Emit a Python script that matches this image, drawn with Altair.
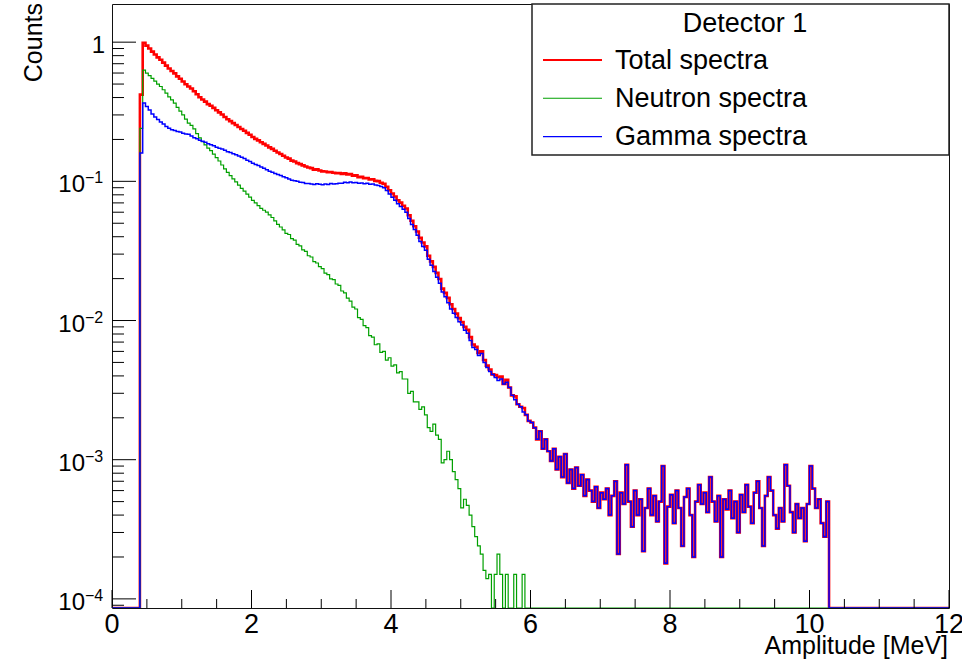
import altair as alt
import pandas as pd

# ---------------- data ----------------
BIN_WIDTH = 0.04          # MeV per bin
N_BINS = 300              # 0 .. 12 MeV
FIRST_BIN = 10            # first non-empty bin starts at 0.40 MeV

neutron = [
    0.24, 0.63, 0.60, 0.575, 0.55, 0.525, 0.50, 0.48, 0.455, 0.43,
    0.405, 0.385, 0.365, 0.34, 0.32, 0.30, 0.28, 0.262, 0.252, 0.238,
    0.22, 0.205, 0.193, 0.183, 0.173, 0.166, 0.157, 0.148, 0.140, 0.131,
    0.123, 0.116, 0.110, 0.104, 0.099, 0.094, 0.089, 0.085, 0.081, 0.077,
    0.073, 0.070, 0.067, 0.064, 0.062, 0.060, 0.0575, 0.055, 0.052, 0.049,
    0.047, 0.0448, 0.0423, 0.0415, 0.0388, 0.0378, 0.0352, 0.0344, 0.0322, 0.0314,
    0.0292, 0.0286, 0.0265, 0.0259, 0.0244, 0.0236, 0.0219, 0.0214, 0.0199, 0.0197,
    0.0183, 0.0179, 0.0163, 0.0158, 0.0145, 0.0138, 0.0125, 0.0121, 0.0105, 0.0102,
    0.0092, 0.0089, 0.0078, 0.0076, 0.0067, 0.0068, 0.0059, 0.0060, 0.0052, 0.0054,
    0.0047, 0.0048, 0.0042, 0.0043, 0.0038, 0.0038, 0.0030, 0.0031, 0.0026, 0.0026,
    0.0023, 0.0024, 0.0021, 0.0017, 0.0016, 0.0018, 0.0015, 0.0014, 0.00095, 0.0010,
    0.00115, 0.0010, 0.00082, 0.00072, 0.00062, 0.00045, 0.00052, 0.00047, 0.00040, 0.00033,
    0.00028, 0.00024, 0.00021, 0.00016, 0.00014, 0.00015, 0, 0.00015, 0.00021, 0.00015,
    0, 0.00015, 0, 0, 0.00015, 0, 0, 0.00015, 0,
]

gamma = [
    0.16, 0.365, 0.345, 0.325, 0.305, 0.29, 0.278, 0.267, 0.258, 0.248,
    0.241, 0.235, 0.232, 0.228, 0.226, 0.222, 0.219, 0.218, 0.212, 0.206,
    0.202, 0.197, 0.194, 0.191, 0.186, 0.183, 0.180, 0.176, 0.173, 0.171,
    0.167, 0.163, 0.161, 0.158, 0.155, 0.152, 0.149, 0.146, 0.142, 0.139,
    0.135, 0.132, 0.130, 0.127, 0.124, 0.121, 0.118, 0.116, 0.114, 0.112,
    0.110, 0.108, 0.106, 0.104, 0.102, 0.101, 0.100, 0.0985, 0.098, 0.0965,
    0.0965, 0.0958, 0.0948, 0.0962, 0.0952, 0.0944, 0.0958, 0.0951, 0.0966, 0.0955,
    0.0962, 0.0970, 0.0968, 0.0985, 0.0978, 0.0990, 0.0975, 0.0982, 0.0968, 0.0974,
    0.0962, 0.0967, 0.0952, 0.0958, 0.0941, 0.0935, 0.0918, 0.090, 0.086, 0.081,
    0.077, 0.073, 0.069, 0.066, 0.063, 0.060, 0.054, 0.049, 0.045, 0.041,
    0.037, 0.034, 0.032, 0.0275, 0.025, 0.0225, 0.0205, 0.0185, 0.0160, 0.0148,
    0.0134, 0.0121, 0.0113, 0.0105, 0.0098, 0.0093, 0.0085, 0.0081, 0.0072, 0.0064,
    0.0062, 0.0056, 0.0058, 0.0050, 0.0046, 0.0043, 0.0041, 0.0039, 0.0037, 0.0038,
    0.0035, 0.0036, 0.0033, 0.0029, 0.0027, 0.0025, 0.0024, 0.0022, 0.0021, 0.0019,
    0.00185, 0.0017, 0.0014, 0.0016, 0.0012, 0.0014, 0.00115, 0.00098, 0.0012, 0.00085,
    0.00105, 0.00075, 0.0011, 0.00068, 0.00085, 0.00062, 0.00088, 0.00065, 0.00078, 0.00055,
    0.00072, 0.00060, 0.00050, 0.00064, 0.00045, 0.00058, 0.00052, 0.00062, 0.00040, 0.00055,
    0.00070, 0.00021, 0.00058, 0.00048, 0.00092, 0.00050, 0.00033, 0.00060, 0.00040, 0.00052,
    0.00022, 0.00045, 0.00062, 0.00040, 0.00055, 0.00036, 0.00050, 0.00090, 0.00018, 0.00046,
    0.00056, 0.00035, 0.00060, 0.00045, 0.00024, 0.00054, 0.00062, 0.00040, 0.00020, 0.00050,
    0.00066, 0.00048, 0.00058, 0.00042, 0.00075, 0.00050, 0.00036, 0.00055, 0.00020, 0.00052,
    0.00044, 0.00060, 0.00038, 0.00050, 0.00030, 0.00056, 0.00042, 0.00066, 0.00046, 0.00035,
    0.00058, 0.00070, 0.00045, 0.00024, 0.00055, 0.00075, 0.00060, 0.00040, 0.00032, 0.00045,
    0.00036, 0.00092, 0.00065, 0.00042, 0.00030, 0.00048, 0.00038, 0.00045, 0.00026, 0.00048,
    0.00090, 0.00062, 0.00045, 0.00052, 0.00035, 0.00028, 0.00050,
]

total = [
    0.42, 0.99, 0.945, 0.90, 0.855, 0.815, 0.778, 0.747, 0.713, 0.678,
    0.646, 0.62, 0.597, 0.568, 0.546, 0.522, 0.499, 0.48, 0.464, 0.444,
    0.422, 0.402, 0.387, 0.374, 0.359, 0.349, 0.337, 0.324, 0.313, 0.302,
    0.29, 0.279, 0.271, 0.262, 0.254, 0.246, 0.238, 0.231, 0.223, 0.216,
    0.208, 0.202, 0.197, 0.191, 0.186, 0.181, 0.1755, 0.171, 0.166, 0.161,
    0.157, 0.1528, 0.1483, 0.1455, 0.1408, 0.1388, 0.1352, 0.1329, 0.1302, 0.1279,
    0.1257, 0.1244, 0.1213, 0.1221, 0.1196, 0.1180, 0.1177, 0.1165, 0.1165, 0.1152,
    0.1145, 0.1149, 0.1131, 0.1143, 0.1123, 0.1128, 0.1100, 0.1103, 0.1073, 0.1076,
    0.1054, 0.1056, 0.1030, 0.1034, 0.1008, 0.1003, 0.0977, 0.0960, 0.0912, 0.0864,
    0.0817, 0.0778, 0.0732, 0.0703, 0.0668, 0.0638, 0.0570, 0.0521, 0.0476, 0.0436,
    0.0393, 0.0364, 0.0341, 0.0292, 0.0266, 0.0243, 0.022, 0.0199, 0.01695, 0.0158,
    0.01455, 0.0131, 0.0121, 0.0112, 0.0104, 0.00975, 0.0090, 0.00857, 0.0076, 0.00673,
    0.00648, 0.00584, 0.0060, 0.0052, 0.00474, 0.00445, 0.0041, 0.00405, 0.00391, 0.00395,
    0.0035, 0.00375, 0.0033, 0.0029, 0.00285, 0.0025, 0.0024, 0.00235, 0.0021, 0.0019,
    0.00185, 0.0017, 0.0014, 0.0016, 0.0012, 0.0014, 0.00115, 0.00098, 0.0012, 0.00085,
    0.00105, 0.00075, 0.0011, 0.00068, 0.00085, 0.00062, 0.00088, 0.00065, 0.00078, 0.00055,
    0.00072, 0.00060, 0.00050, 0.00064, 0.00045, 0.00058, 0.00052, 0.00062, 0.00040, 0.00055,
    0.00070, 0.00021, 0.00058, 0.00048, 0.00092, 0.00050, 0.00033, 0.00060, 0.00040, 0.00052,
    0.00022, 0.00045, 0.00062, 0.00040, 0.00055, 0.00036, 0.00050, 0.00090, 0.00018, 0.00046,
    0.00056, 0.00035, 0.00060, 0.00045, 0.00024, 0.00054, 0.00062, 0.00040, 0.00020, 0.00050,
    0.00066, 0.00048, 0.00058, 0.00042, 0.00075, 0.00050, 0.00036, 0.00055, 0.00020, 0.00052,
    0.00044, 0.00060, 0.00038, 0.00050, 0.00030, 0.00056, 0.00042, 0.00066, 0.00046, 0.00035,
    0.00058, 0.00070, 0.00045, 0.00024, 0.00055, 0.00075, 0.00060, 0.00040, 0.00032, 0.00045,
    0.00036, 0.00092, 0.00065, 0.00042, 0.00030, 0.00048, 0.00038, 0.00045, 0.00026, 0.00048,
    0.00090, 0.00062, 0.00045, 0.00052, 0.00035, 0.00028, 0.00050,
]

series_names = ["Total spectra", "Neutron spectra", "Gamma spectra"]
series_colors = ["#ff0000", "#00a000", "#0000ff"]
x_tick_values = [0, 2, 4, 6, 8, 10, 12]
x_tick_labels = ["0", "2", "4", "6", "8", "10", "12"]
y_decades = [1e-4, 1e-3, 1e-2, 1e-1, 1.0]
y_exponents = ["\u22124", "\u22123", "\u22122", "\u22121"]
legend_title = "Detector 1"

X_MIN, X_MAX = 0.0, 12.0
Y_MIN, Y_MAX = 8.6e-5, 1.88

# ---------------- build tables ----------------
def full_hist(vals):
    out = [0.0] * N_BINS
    for k, v in enumerate(vals):
        out[FIRST_BIN + k] = v
    return out

rows = []
for name, vals in zip(series_names, [total, neutron, gamma]):
    h = full_hist(vals)
    for i in range(N_BINS):
        v = h[i] if h[i] > 0 else Y_MIN   # empty bins drawn on the frame bottom
        rows.append({"E": round(i * BIN_WIDTH, 4), "v": v, "s": name})
    rows.append({"E": X_MAX, "v": h[-1] if h[-1] > 0 else Y_MIN, "s": name})
hist = pd.DataFrame(rows)

xs = alt.Scale(domain=[X_MIN, X_MAX], nice=False, zero=False)
ys = alt.Scale(type="log", domain=[Y_MIN, Y_MAX], nice=False)

W, H = 837, 604
FONT = "Liberation Sans"

widths = {"Total spectra": 2.6, "Neutron spectra": 1.2, "Gamma spectra": 1.5}
layers = []
for name, col in zip(series_names, series_colors):
    layers.append(
        alt.Chart(hist[hist.s == name])
        .mark_line(interpolate="step-after", color=col, strokeWidth=widths[name], clip=True)
        .encode(x=alt.X("E:Q", scale=xs, axis=None), y=alt.Y("v:Q", scale=ys, axis=None))
    )

# ticks (inside the frame, ROOT style)
x_major = pd.DataFrame({"t": x_tick_values})
x_minor = pd.DataFrame({"t": [x / 2 for x in range(25) if x % 4 != 0]})
y_major = pd.DataFrame({"t": y_decades})
y_minor_vals = [m * d for d in [1e-5, 1e-4, 1e-3, 1e-2, 1e-1] for m in range(2, 10)]
y_minor = pd.DataFrame({"t": [v for v in y_minor_vals if Y_MIN <= v <= Y_MAX]})

def xtick(df, length):
    return alt.Chart(df).mark_rule(color="#000", strokeWidth=1).encode(
        x=alt.X("t:Q", scale=xs, axis=None), y=alt.value(H), y2=alt.value(H - length))

def ytick(df, length):
    return alt.Chart(df).mark_rule(color="#000", strokeWidth=1).encode(
        y=alt.Y("t:Q", scale=ys, axis=None), x=alt.value(0), x2=alt.value(length))

layers += [xtick(x_major, 18), xtick(x_minor, 9), ytick(y_major, 24), ytick(y_minor, 12)]

# x tick labels
xl = pd.DataFrame({"t": x_tick_values, "lab": x_tick_labels})
layers.append(
    alt.Chart(xl).mark_text(font=FONT, fontSize=27, align="center", baseline="alphabetic", color="#000")
    .encode(x=alt.X("t:Q", scale=xs, axis=None), y=alt.value(H + 25), text="lab:N"))

# y tick labels: "10" with superscript exponent, and "1"
yl = pd.DataFrame({"t": y_decades[:-1], "base": ["10"] * 4, "exp": y_exponents})
layers.append(
    alt.Chart(yl).mark_text(font=FONT, fontSize=24, align="right", baseline="alphabetic", dy=11, color="#000")
    .encode(y=alt.Y("t:Q", scale=ys, axis=None), x=alt.value(-27), text="base:N"))
layers.append(
    alt.Chart(yl).mark_text(font=FONT, fontSize=16, align="left", baseline="alphabetic", dy=2, color="#000")
    .encode(y=alt.Y("t:Q", scale=ys, axis=None), x=alt.value(-27), text="exp:N"))
one = pd.DataFrame({"t": [1.0], "lab": ["1"]})
layers.append(
    alt.Chart(one).mark_text(font=FONT, fontSize=24, align="right", baseline="alphabetic", dy=11, color="#000")
    .encode(y=alt.Y("t:Q", scale=ys, axis=None), x=alt.value(-7), text="lab:N"))

# axis titles
layers.append(
    alt.Chart(one).mark_text(font=FONT, fontSize=25, angle=270, align="right", baseline="alphabetic",
                             color="#000", text="Counts")
    .encode(x=alt.value(-70), y=alt.value(-1)))
layers.append(
    alt.Chart(one).mark_text(font=FONT, fontSize=25, align="right", baseline="alphabetic",
                             color="#000", text="Amplitude [MeV]")
    .encode(x=alt.value(W - 1), y=alt.value(H + 46)))

# legend box
layers.append(
    alt.Chart(one).mark_rect(fill="white", stroke="#222", strokeWidth=1.5)
    .encode(x=alt.value(420), x2=alt.value(W), y=alt.value(0), y2=alt.value(151)))
layers.append(
    alt.Chart(one).mark_text(font=FONT, fontSize=27, align="center", baseline="alphabetic",
                             color="#000", text=legend_title)
    .encode(x=alt.value(633), y=alt.value(28)))
leg_w = [1.8, 1.1, 1.4]
for k, (name, col) in enumerate(zip(series_names, series_colors)):
    yy = 56 + 38.3 * k
    layers.append(
        alt.Chart(one).mark_rule(color=col, strokeWidth=leg_w[k])
        .encode(x=alt.value(431), x2=alt.value(490), y=alt.value(yy)))
    layers.append(
        alt.Chart(one).mark_text(font=FONT, fontSize=27, align="left", baseline="alphabetic",
                                 color="#000", text=name)
        .encode(x=alt.value(503), y=alt.value(yy + 8.5)))

chart = (
    alt.layer(*layers)
    .properties(width=W, height=H,
                padding={"left": 112, "top": 4, "right": 13, "bottom": 62},
                autosize=alt.AutoSizeParams(type="none"),
                background="white")
    .configure(font=FONT)
    .configure_view(stroke="#111", strokeWidth=1)
)

chart.save("out.html", embed_options={"renderer": "svg", "actions": False})
